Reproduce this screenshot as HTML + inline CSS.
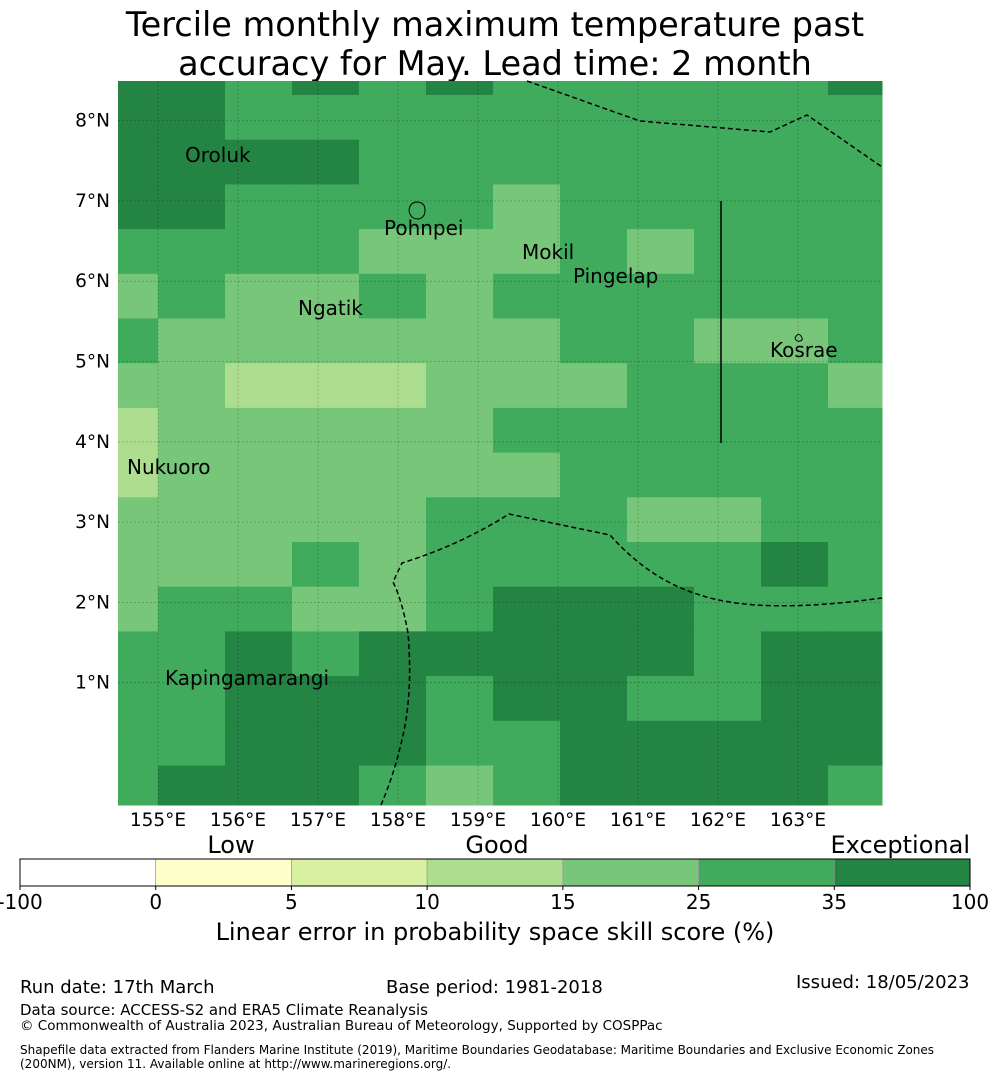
<!DOCTYPE html>
<html><head><meta charset="utf-8"><style>
body{margin:0;background:#fff;font-family:"Liberation Sans","DejaVu Sans",sans-serif;}
.t{position:absolute;white-space:nowrap;color:#000}
</style></head><body>
<div style="position:relative;width:990px;height:1080px;overflow:hidden;font-family:'DejaVu Sans','Liberation Sans',sans-serif">
<div class="t" style="left:0;width:990px;top:5px;text-align:center;font-size:33.5px;line-height:39px">Tercile monthly maximum temperature past<br>accuracy for May. Lead time: 2 month</div>
<svg id="map" width="990" height="830" style="position:absolute;left:0;top:0"></svg>
<svg id="cb" width="990" height="100" style="position:absolute;left:0;top:830px"></svg>
<div class="t" style="left:0;width:990px;text-align:center;top:918px;font-size:24px">Linear error in probability space skill score (%)</div>
<div class="t" style="left:20px;top:977px;font-size:18px">Run date: 17th March</div>
<div class="t" style="left:386px;top:977px;font-size:18px">Base period: 1981-2018</div>
<div class="t" style="left:796px;top:972px;font-size:18px">Issued: 18/05/2023</div>
<div class="t" style="left:20px;top:1001px;font-size:15px">Data source: ACCESS-S2 and ERA5 Climate Reanalysis</div>
<div class="t" style="left:20px;top:1018px;font-size:13.5px">© Commonwealth of Australia 2023, Australian Bureau of Meteorology, Supported by COSPPac</div>
<div class="t" style="left:20px;top:1043px;font-size:12px;line-height:14px">Shapefile data extracted from Flanders Marine Institute (2019), Maritime Boundaries Geodatabase: Maritime Boundaries and Exclusive Economic Zones<br>(200NM), version 11. Available online at http://www.marineregions.org/.</div>
</div>
<script>
// skill scores per grid row (north to south), columns west to east
const rowVals = [
 [40,40,30,40,30,40,30,30,30,30,30,40],
 [40,40,30,30,30,30,30,30,30,30,30,30],
 [40,40,40,40,30,30,30,30,30,30,30,30],
 [40,40,30,30,30,30,20,30,30,30,30,30],
 [30,30,30,30,20,20,20,30,20,30,30,30],
 [20,30,20,20,30,20,30,30,30,30,30,30],
 [30,20,20,20,20,20,20,30,30,20,20,30],
 [20,20,12,12,12,20,20,20,30,30,30,20],
 [12,20,20,20,20,20,30,30,30,30,30,30],
 [12,20,20,20,20,20,20,30,30,30,30,30],
 [20,20,20,20,20,30,30,30,20,20,30,30],
 [20,20,20,30,20,30,30,30,30,30,40,30],
 [20,30,30,20,20,30,40,40,40,30,30,30],
 [30,30,40,30,40,40,40,40,40,30,40,40],
 [30,30,40,40,40,30,40,40,30,30,40,40],
 [30,30,40,40,40,30,30,40,40,40,40,40],
 [30,40,40,40,30,20,30,40,40,40,40,30]
];
const lonTicks = [155,156,157,158,159,160,161,162,163];
const latTicks = [1,2,3,4,5,6,7,8];
const cbBounds = [-100,0,5,10,15,25,35,100];
const cbColors = ['#ffffff','#ffffcc','#d9f0a3','#addd8e','#78c679','#41ab5d','#238443'];
const placeNames = ["Oroluk","Pohnpei","Mokil","Pingelap","Ngatik","Kosrae","Nukuoro","Kapingamarangi"];

const NS='http://www.w3.org/2000/svg';
const L=118,R=882,T=81,B=805;
const xs=lon=>158+(lon-155)*80;
const ys=lat=>763-lat*80.3;
const labelPos=[[185,162],[384,235],[522,259],[573,283],[298,315],[770,357],[127,474],[165,685]];
const colEdges=[L]; for(let i=1;i<12;i++) colEdges.push(158+67*(i-1)); colEdges.push(R);
const rowEdges=[T]; for(let i=1;i<17;i++) rowEdges.push(95+44.7*(i-1)); rowEdges.push(B);
function color(v){for(let i=0;i<cbColors.length;i++){if(v<cbBounds[i+1])return cbColors[i];}return cbColors[cbColors.length-1];}
function mk(p,tag,at){const e=document.createElementNS(NS,tag);for(const k in at)e.setAttribute(k,at[k]);p.appendChild(e);return e;}
const map=document.getElementById('map');
rowVals.forEach((row,r)=>row.forEach((v,c)=>{
 const e=mk(map,'rect',{x:colEdges[c],y:rowEdges[r],width:colEdges[c+1]-colEdges[c]+0.5,height:rowEdges[r+1]-rowEdges[r]+0.5,fill:color(v)});
 
 
}));
lonTicks.forEach(lon=>{
 const g=mk(map,'line',{x1:xs(lon),x2:xs(lon),y1:T,y2:B,stroke:'rgba(0,0,0,0.25)','stroke-width':0.8,'stroke-dasharray':'2,2'});
 
 
 const t=mk(map,'text',{x:xs(lon),y:826,'text-anchor':'middle','font-size':18.5});
 t.textContent=lon+'°E';
 
 
});
latTicks.forEach(lat=>{
 const g=mk(map,'line',{x1:L,x2:R,y1:ys(lat),y2:ys(lat),stroke:'rgba(0,0,0,0.25)','stroke-width':0.8,'stroke-dasharray':'2,2'});
 
 
 const t=mk(map,'text',{x:110,y:ys(lat)+6,'text-anchor':'end','font-size':18.5});
 t.textContent=lat+'°N';
 
 
});
const e1=mk(map,'polyline',{points:'527,81 640,121 770,132 807,115 882,167',fill:'none',stroke:'#000','stroke-width':1.5,'stroke-dasharray':'5,3'});


const e2=mk(map,'path',{d:'M381,805 Q398,765 406,720 Q412,680 408,633 Q402,600 393,582 L402,563 Q460,545 509,514 L610,535 Q650,580 700,595 Q760,615 882,598',fill:'none',stroke:'#000','stroke-width':1.5,'stroke-dasharray':'5,3'});


const sl=mk(map,'line',{x1:721,x2:721,y1:201,y2:443,stroke:'#000','stroke-width':1.5});


const isl=mk(map,'path',{d:'M409,210 q1,-7 7,-8 q9,0 9,8 q0,8 -7,9 q-8,0 -9,-9z M795,338 q3,-6 6,-2 q3,4 -1,5 q-4,1 -5,-3z',fill:'none',stroke:'#000','stroke-width':1});


placeNames.forEach((p,i)=>{
 const t=mk(map,'text',{x:labelPos[i][0],y:labelPos[i][1],'font-size':20});
 t.textContent=p;
 
 
});
const cb=document.getElementById('cb');
const cbL=20,cbW=950,n=cbColors.length,seg=cbW/n;
cbColors.forEach((c,i)=>{
 const e=mk(cb,'rect',{x:cbL+i*seg,y:29,width:seg,height:27,fill:c,stroke:'#999','stroke-width':0.7});
 
 
});
mk(cb,'rect',{x:cbL,y:29,width:cbW,height:27,fill:'none',stroke:'#000','stroke-width':1});
cbBounds.forEach((b,i)=>{
 mk(cb,'line',{x1:cbL+i*seg,x2:cbL+i*seg,y1:56,y2:60,stroke:'#000','stroke-width':1});
 const t=mk(cb,'text',{x:cbL+i*seg,y:79,'text-anchor':'middle','font-size':20});
 t.textContent=b;
 
 
});
[["Low",231,'middle'],["Good",497,'middle'],["Exceptional",970,'end']].forEach(a=>{
 const t=mk(cb,'text',{x:a[1],y:23,'text-anchor':a[2],'font-size':24});
 t.textContent=a[0];
 
 
});
</script>
</body></html>
